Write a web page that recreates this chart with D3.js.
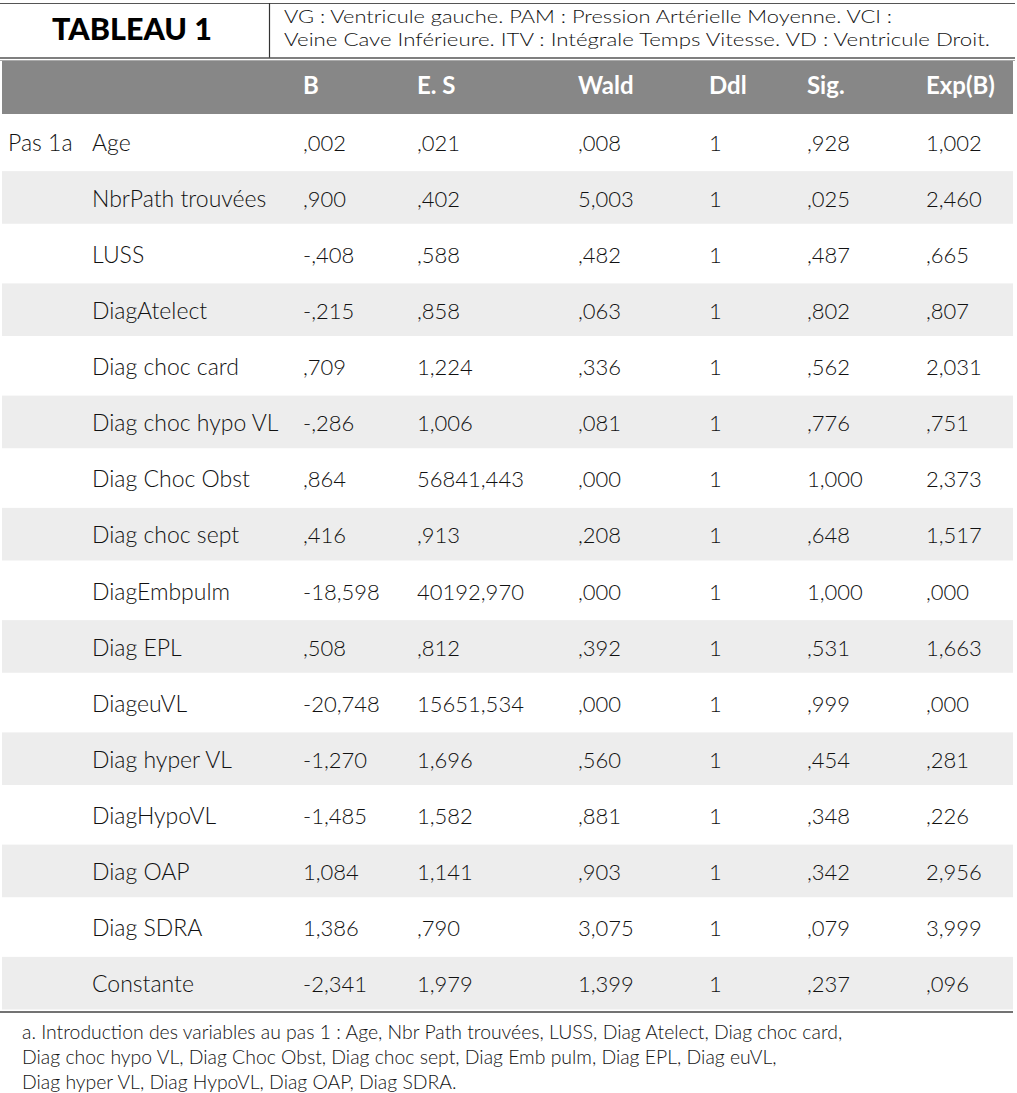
<!DOCTYPE html>
<html>
<head>
<meta charset="utf-8">
<script src="https://cdn.jsdelivr.net/npm/d3@7"></script>
<style>
  body { margin: 0; background: #fff; }
  svg text { font-family: Lato, "Noto Sans", sans-serif; fill: #111; }
  .head { font-weight: 700; fill: #fff; }
  .cell { font-size: 22px; font-weight: 300; }
  .cell.label, .cell.step { font-size: 23px; }
</style>
</head>
<body>
<div id="table"></div>
<script>
// Table content
var title = "TABLEAU 1";
var subtitle = ["VG : Ventricule gauche. PAM : Pression Artérielle Moyenne. VCI :",
                "Veine Cave Inférieure. ITV : Intégrale Temps Vitesse. VD : Ventricule Droit."];
var headers = ["", "", "B", "E. S", "Wald", "Ddl", "Sig.", "Exp(B)"];
var variables = ["Age", "NbrPath trouvées", "LUSS", "DiagAtelect", "Diag choc card",
    "Diag choc hypo VL", "Diag Choc Obst", "Diag choc sept", "DiagEmbpulm", "Diag EPL",
    "DiageuVL", "Diag hyper VL", "DiagHypoVL", "Diag OAP", "Diag SDRA", "Constante"];
var B    = [",002", ",900", "-,408", "-,215", ",709", "-,286", ",864", ",416", "-18,598",
            ",508", "-20,748", "-1,270", "-1,485", "1,084", "1,386", "-2,341"];
var ES   = [",021", ",402", ",588", ",858", "1,224", "1,006", "56841,443", ",913", "40192,970",
            ",812", "15651,534", "1,696", "1,582", "1,141", ",790", "1,979"];
var Wald = [",008", "5,003", ",482", ",063", ",336", ",081", ",000", ",208", ",000",
            ",392", ",000", ",560", ",881", ",903", "3,075", "1,399"];
var Ddl  = ["1", "1", "1", "1", "1", "1", "1", "1", "1", "1", "1", "1", "1", "1", "1", "1"];
var Sig  = [",928", ",025", ",487", ",802", ",562", ",776", "1,000", ",648", "1,000",
            ",531", ",999", ",454", ",348", ",342", ",079", ",237"];
var ExpB = ["1,002", "2,460", ",665", ",807", "2,031", ",751", "2,373", "1,517", ",000",
            "1,663", ",000", ",281", ",226", "2,956", "3,999", ",096"];
var stepLabel = "Pas 1a";
var footnote = ["a. Introduction des variables au pas 1 : Age, Nbr Path trouvées, LUSS, Diag Atelect, Diag choc card,",
                "Diag choc hypo VL, Diag Choc Obst, Diag choc sept, Diag Emb pulm, Diag EPL, Diag euVL,",
                "Diag hyper VL, Diag HypoVL, Diag OAP, Diag SDRA."];

var width = 1017, height = 1093;
var left = 2, right = 1013;

var svg = d3.select("#table").append("svg")
    .attr("width", width)
    .attr("height", height);

// column positions (left aligned text)
var colKeys = ["step", "label", "B", "ES", "Wald", "Ddl", "Sig", "ExpB"];
var x = d3.scaleOrdinal()
    .domain(colKeys)
    .range([8, 92, 303, 417, 578, 709, 807, 926]);

// rows
var y = d3.scaleBand()
    .domain(variables)
    .range([114, 1012]);

var rows = variables.map(function(v, i) {
    return {label: v, B: B[i], ES: ES[i], Wald: Wald[i], Ddl: Ddl[i], Sig: Sig[i], ExpB: ExpB[i], i: i};
});

// title block
svg.append("line")
    .attr("x1", 0).attr("x2", 1015)
    .attr("y1", 3.5).attr("y2", 3.5)
    .attr("stroke", "#555").attr("stroke-width", 1.2);
svg.append("line")
    .attr("x1", 269.5).attr("x2", 269.5)
    .attr("y1", 3).attr("y2", 58)
    .attr("stroke", "#333").attr("stroke-width", 1.2);
svg.append("line")
    .attr("x1", 0).attr("x2", 1015)
    .attr("y1", 58).attr("y2", 58)
    .attr("stroke", "#555").attr("stroke-width", 1.5);
svg.append("line")
    .attr("x1", 0).attr("x2", 1015)
    .attr("y1", 60.5).attr("y2", 60.5)
    .attr("stroke", "#aaa").attr("stroke-width", 1);

svg.append("text")
    .attr("x", 132).attr("y", 40)
    .attr("text-anchor", "middle")
    .style("font-size", "30.5px")
    .style("font-weight", 900)
    .style("fill", "#000")
    .text(title);

// subtitle lines, stretched to the widths seen in the original
var subWidths = [608, 706];
svg.selectAll("text.sub").data(subtitle)
    .enter().append("text")
    .attr("class", "sub")
    .attr("x", 284)
    .attr("y", function(d, i) { return 23 + i * 22.5; })
    .attr("textLength", function(d, i) { return subWidths[i]; })
    .attr("lengthAdjust", "spacingAndGlyphs")
    .style("font-size", "18.5px")
    .style("font-weight", 300)
    .text(function(d) { return d; });

// header band
svg.append("rect")
    .attr("x", left).attr("y", 61)
    .attr("width", right - left).attr("height", 53)
    .attr("fill", "#878787");

svg.selectAll("text.head").data(headers)
    .enter().append("text")
    .attr("class", "head")
    .attr("x", function(d, i) { return x(colKeys[i]); })
    .attr("y", 93.5)
    .style("font-size", "24px")
    .text(function(d) { return d; });

// striped rows
svg.selectAll("rect.stripe").data(rows.filter(function(d) { return d.i % 2 === 1; }))
    .enter().append("rect")
    .attr("class", "stripe")
    .attr("x", left)
    .attr("y", function(d) { return y(d.label) + 1; })
    .attr("width", right - left)
    .attr("height", y.bandwidth() - 3.5)
    .attr("fill", "#ededed");

svg.append("text")
    .attr("class", "cell step")
    .attr("x", x("step"))
    .attr("y", y(variables[0]) + 36.5)
    .text(stepLabel);

var cols = ["label", "B", "ES", "Wald", "Ddl", "Sig", "ExpB"];
var rowG = svg.selectAll("g.row").data(rows)
    .enter().append("g")
    .attr("class", "row")
    .attr("transform", function(d) { return "translate(0," + (y(d.label) + 36.5) + ")"; });

rowG.selectAll("text")
    .data(function(d) { return cols.map(function(c) { return {col: c, value: d[c]}; }); })
    .enter().append("text")
    .attr("class", function(d) { return "cell " + d.col; })
    .attr("x", function(d) { return x(d.col); })
    .text(function(d) { return d.value; });

// bottom rule
svg.append("line")
    .attr("x1", 0).attr("x2", 1013)
    .attr("y1", 1012).attr("y2", 1012)
    .attr("stroke", "#444").attr("stroke-width", 1.3);

svg.selectAll("text.note").data(footnote)
    .enter().append("text")
    .attr("class", "note")
    .attr("x", 22)
    .attr("y", function(d, i) { return 1039 + i * 25; })
    .style("font-size", "19.4px")
    .style("font-weight", 300)
    .text(function(d) { return d; });
</script>
</body>
</html>
